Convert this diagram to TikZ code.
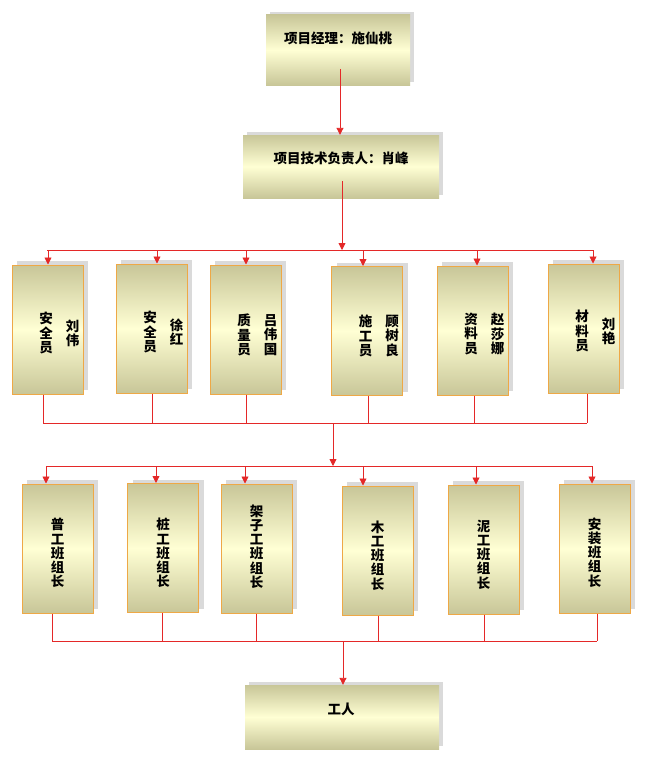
\documentclass[tikz,border=0pt]{standalone}
\usepackage{fontspec}
\newfontfamily\cjk{Noto Sans CJK SC}
\usetikzlibrary{arrows.meta,shadows}
\definecolor{bdark}{RGB}{200,198,152}
\definecolor{blight}{RGB}{255,255,212}
\definecolor{bord}{RGB}{238,168,70}
\definecolor{sgray}{RGB}{218,218,218}
\definecolor{lred}{RGB}{228,40,40}
\begin{document}
\begin{tikzpicture}[x=1pt,y=-1pt,
  conn/.style={draw=lred, line width=0.9pt},
  arr/.style={conn, -{Triangle[length=7pt,width=7pt]}},
  topbox/.style={rectangle, inner sep=0pt, top color=bdark, bottom color=bdark, middle color=blight, draw=none,
    drop shadow={shadow xshift=4pt, shadow yshift=3pt, fill=sgray, opacity=1}},
  colbox/.style={rectangle, inner sep=0pt, minimum width=71pt, minimum height=129pt,
    top color=bdark, bottom color=bdark, middle color=blight, draw=bord, line width=1pt,
    drop shadow={shadow xshift=5pt, shadow yshift=4pt, fill=sgray, opacity=1}},
  lbl/.style={inner sep=0pt, font=\cjk\bfseries\fontsize{13.5}{14.2}\selectfont, align=center}]
\fill[white] (0,0) rectangle (653,768);
\useasboundingbox (0,0) rectangle (653,768);

% top boxes
\node[topbox, minimum width=144pt, minimum height=70pt] (mgr) at (338,50) {};
\node[lbl] (mgrt) at (338,38) {项目经理：施仙桃};
\node[topbox, minimum width=196pt, minimum height=63pt] (tech) at (341,166.5) {};
\node[lbl] (techt) at (341,158) {项目技术负责人：肖峰};
\node[topbox, minimum width=194pt, minimum height=64pt] (work) at (342,717) {};
\node[lbl] (workt) at (341,709) {工人};

% connectors at top
\coordinate (m1) at (340,69);
\draw[arr] (m1) -- (m1 |- tech.north);
\coordinate (t1) at (342,181);
\coordinate (hb1) at (342,250);
\draw[arr] (t1) -- (hb1);
\coordinate (bus1l) at (47,250);
\coordinate (bus1r) at (594,250);
\draw[conn] (bus1l) -- (bus1r);

% row 1
\foreach \n/\cx/\cy/\ax/\dx/\ro/\pe/\ty in {
  1/47.5/329.5/48/43/{安\\全\\员}/{刘\\伟}/333,
  2/151.5/328.5/157/152/{安\\全\\员}/{徐\\红}/332,
  3/245.5/329.5/246/246/{质\\量\\员}/{吕\\伟\\国}/335,
  4/367/331/363/368/{施\\工\\员}/{顾\\树\\良}/336,
  5/472.5/330.5/477/474/{资\\料\\员}/{赵\\莎\\娜}/334,
  6/583.5/328.5/593/587/{材\\料\\员}/{刘\\艳}/331}
{
  \node[colbox] (r\n) at (\cx,\cy) {};
  \node[lbl] (r\n role) at (\cx-1.5,\ty) {\ro};
  \node[lbl] (r\n name) at (\cx+25,\ty) {\pe};
  \coordinate (ra\n) at (\ax,250);
  \draw[arr] (ra\n) -- (ra\n |- r\n.north);
  \coordinate (rd\n) at (\dx,423);
  \draw[conn] (rd\n |- r\n.south) -- (rd\n);
}
\draw[conn] (rd1) -- (rd6);
\coordinate (v2a) at (333,423);
\coordinate (v2b) at (333,466);
\draw[arr] (v2a) -- (v2b);
\coordinate (bus2l) at (47,466);
\coordinate (bus2r) at (592,466);
\draw[conn] (bus2l) -- (bus2r);

% row 2
\foreach \n/\cx/\cy/\ax/\dx/\tx/\ty in {
  1/57.5/548.5/46/52/{普\\工\\班\\组\\长}/553,
  2/163/548/156/162/{桩\\工\\班\\组\\长}/553,
  3/256.5/548.5/245/256/{架\\子\\工\\班\\组\\长}/546.5,
  4/377.5/550.5/363/378/{木\\工\\班\\组\\长}/555.5,
  5/483.5/549.5/476/484/{泥\\工\\班\\组\\长}/554.5,
  6/594.5/548.5/592/597/{安\\装\\班\\组\\长}/552.5}
{
  \node[colbox] (b\n) at (\cx,\cy) {};
  \node[lbl] (b\n t) at (\cx,\ty) {\tx};
  \coordinate (ba\n) at (\ax,466);
  \draw[arr] (ba\n) -- (ba\n |- b\n.north);
  \coordinate (bd\n) at (\dx,641);
  \draw[conn] (bd\n |- b\n.south) -- (bd\n);
}
\draw[conn] (bd1) -- (bd6);
\coordinate (v3a) at (343,641);
\draw[arr] (v3a) -- (v3a |- work.north);
\end{tikzpicture}
\end{document}
